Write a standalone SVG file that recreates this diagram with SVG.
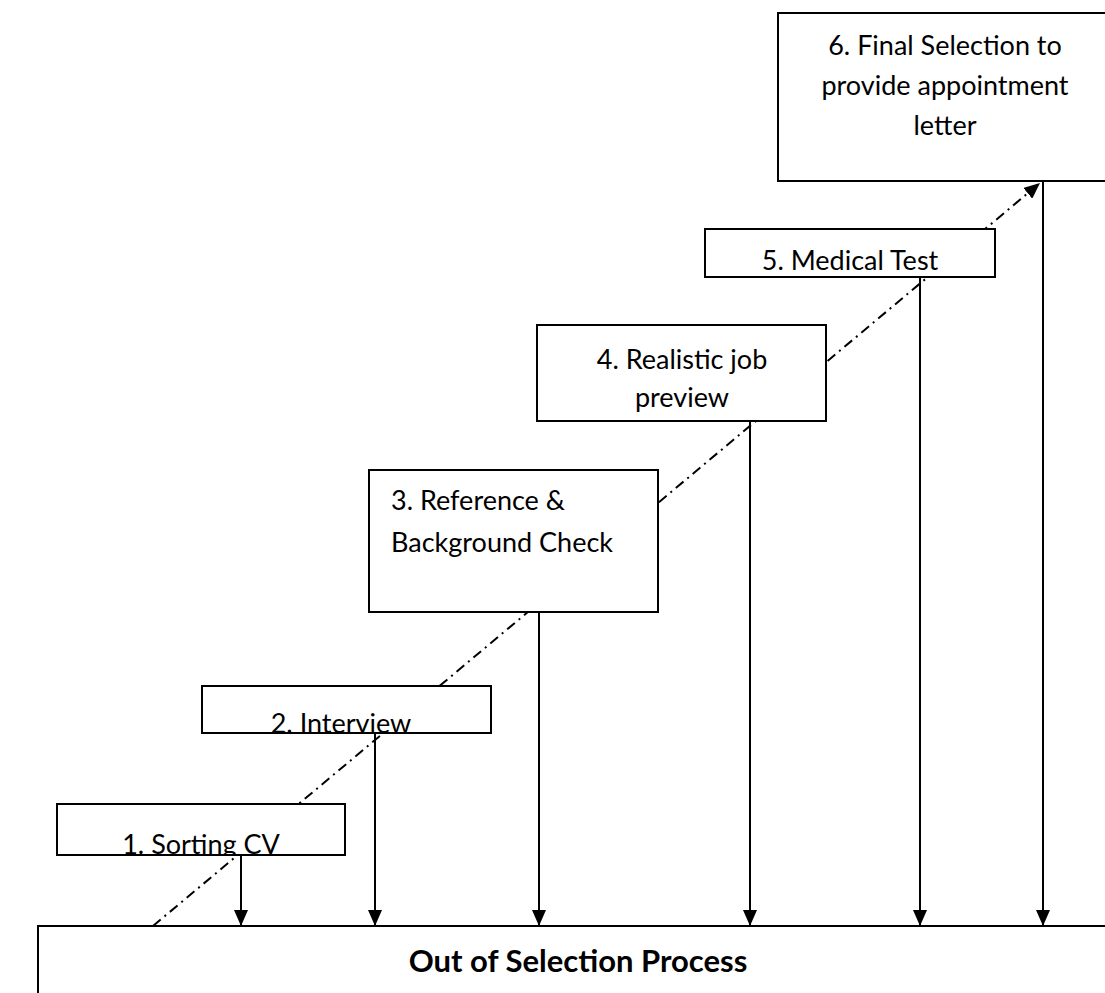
<svg xmlns="http://www.w3.org/2000/svg" width="1105" height="993" viewBox="0 0 1105 993">
<style>
.box{fill:#fff;stroke:#000;stroke-width:2}
.t{font-family:Lato,"Liberation Sans",sans-serif;font-size:27px;fill:#000}
.c{text-anchor:middle}
.v{stroke:#000;stroke-width:2;fill:none}
.dd{stroke:#000;stroke-width:2;fill:none;stroke-dasharray:10 5 2 5}
.b{font-family:Lato,"Liberation Sans",sans-serif;font-size:31px;font-weight:bold;fill:#000;text-anchor:middle}
</style>
<defs>
<marker id="ah" markerUnits="userSpaceOnUse" markerWidth="16" markerHeight="14" refX="16" refY="7" orient="auto">
<path d="M0,0 L16,7 L0,14 Z" fill="#000"/>
</marker>
<clipPath id="c1"><rect x="57" y="804" width="288" height="51"/></clipPath>
<clipPath id="c2"><rect x="202" y="686" width="289" height="47"/></clipPath>
</defs>
<g id="connectors">
<line class="dd" x1="153" y1="926" x2="1040" y2="183" marker-end="url(#ah)"/>
<line class="v" x1="241" y1="855" x2="241" y2="926" marker-end="url(#ah)"/>
<line class="v" x1="375" y1="733" x2="375" y2="926" marker-end="url(#ah)"/>
<line class="v" x1="539" y1="612" x2="539" y2="926" marker-end="url(#ah)"/>
<line class="v" x1="750" y1="421" x2="750" y2="926" marker-end="url(#ah)"/>
<line class="v" x1="920" y1="277" x2="920" y2="926" marker-end="url(#ah)"/>
<line class="v" x1="1043" y1="181" x2="1043" y2="926" marker-end="url(#ah)"/>
</g>
<g id="node1">
<rect class="box" x="57" y="804" width="288" height="51"/>
<text class="t c" x="201" y="854" clip-path="url(#c1)">1. Sorting CV</text>
</g>
<g id="node2">
<rect class="box" x="202" y="686" width="289" height="47"/>
<text class="t c" x="341" y="733" clip-path="url(#c2)">2. Interview</text>
</g>
<g id="node3">
<rect class="box" x="369" y="470" width="289" height="142"/>
<text class="t" x="391" y="510">3. Reference &amp;</text>
<text class="t" x="391" y="552">Background Check</text>
</g>
<g id="node4">
<rect class="box" x="537" y="325" width="289" height="96"/>
<text class="t c" x="682" y="369">4. Realistic job</text>
<text class="t c" x="682" y="407">preview</text>
</g>
<g id="node5">
<rect class="box" x="705" y="229" width="290" height="48"/>
<text class="t c" x="850" y="270">5. Medical Test</text>
</g>
<g id="node6">
<rect class="box" x="778" y="13" width="340" height="168"/>
<text class="t c" x="945" y="55">6. Final Selection to</text>
<text class="t c" x="945" y="95">provide appointment</text>
<text class="t c" x="945" y="135">letter</text>
</g>
<g id="node7">
<rect class="box" x="38" y="926" width="1090" height="100"/>
<text class="b" x="578" y="972">Out of Selection Process</text>
</g>
</svg>
